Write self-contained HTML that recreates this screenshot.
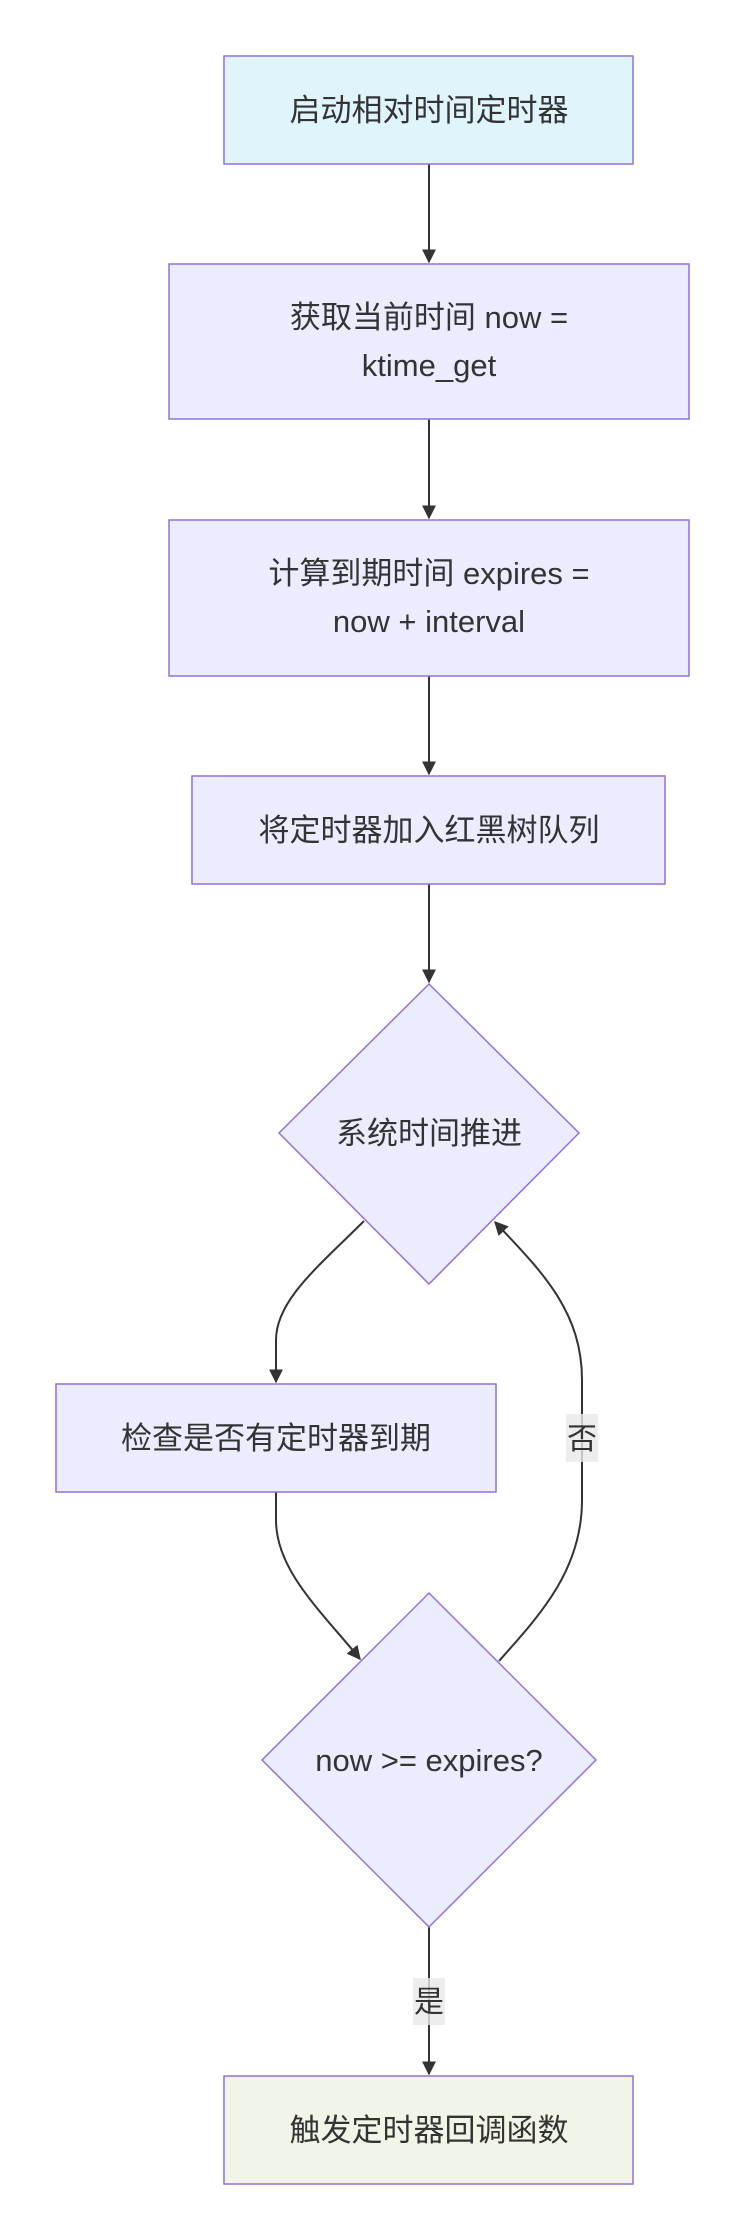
<!DOCTYPE html>
<html><head><meta charset="utf-8"><style>
html,body{margin:0;padding:0;background:#fff;}
svg{display:block;}
text{font-family:"Liberation Sans","Noto Sans CJK SC",sans-serif;font-size:31px;fill:#333;}
text.l{font-size:30px;}
</style></head><body>
<svg width="745" height="2238" viewBox="0 0 745 2238" xmlns="http://www.w3.org/2000/svg">
<defs><marker id="b" viewBox="0 0 10 10" refX="9" refY="5" markerWidth="14" markerHeight="14" markerUnits="userSpaceOnUse" orient="auto"><path d="M0,0L10,5L0,10z" fill="#333"/></marker></defs>
<g stroke="#333" stroke-width="2" fill="none">
<path d="M429,164V262" marker-end="url(#b)"/>
<path d="M429,419V518" marker-end="url(#b)"/>
<path d="M429,676V774" marker-end="url(#b)"/>
<path d="M429,884V982" marker-end="url(#b)"/>
<path d="M364,1221C320,1265 276,1300 276,1340V1382" marker-end="url(#b)"/>
<path d="M276,1492V1520C276,1570 320,1610 360,1659" marker-end="url(#b)"/>
<path d="M499,1661C540,1615 582,1570 582,1500V1380C582,1310 540,1270 495,1222" marker-end="url(#b)"/>
<path d="M429,1927V2074" marker-end="url(#b)"/>
</g>
<g stroke="#9370db" stroke-width="1.5">
<rect x="224" y="56" width="409" height="108" fill="#e0f4fc"/>
<rect x="169" y="264" width="520" height="155" fill="#ececff"/>
<rect x="169" y="520" width="520" height="156" fill="#ececff"/>
<rect x="192" y="776" width="473" height="108" fill="#ececff"/>
<polygon points="429,984 579,1133 429,1284 279,1133" fill="#ececff"/>
<rect x="56" y="1384" width="440" height="108" fill="#ececff"/>
<polygon points="429,1593 596,1760 429,1927 262,1760" fill="#ececff"/>
<rect x="224" y="2076" width="409" height="108" fill="#f0f5e8"/>
</g>
<rect x="566" y="1414" width="32" height="48" fill="#e8e8e8" opacity="0.8"/>
<rect x="413" y="1978" width="32" height="47" fill="#e8e8e8" opacity="0.8"/>
<g text-anchor="middle">
<text x="429" y="121">启动相对时间定时器</text>
<text x="429" y="328">获取当前时间 now =</text>
<text x="429" y="376">ktime_get</text>
<text x="429" y="584">计算到期时间 expires =</text>
<text x="429" y="632">now + interval</text>
<text x="429" y="841">将定时器加入红黑树队列</text>
<text x="429" y="1144">系统时间推进</text>
<text x="276" y="1449">检查是否有定时器到期</text>
<text x="429" y="1771">now &gt;= expires?</text>
<text class="l" x="582" y="1449">否</text>
<text class="l" x="429" y="2012">是</text>
<text x="429" y="2141">触发定时器回调函数</text>
</g>
</svg>
</body></html>
